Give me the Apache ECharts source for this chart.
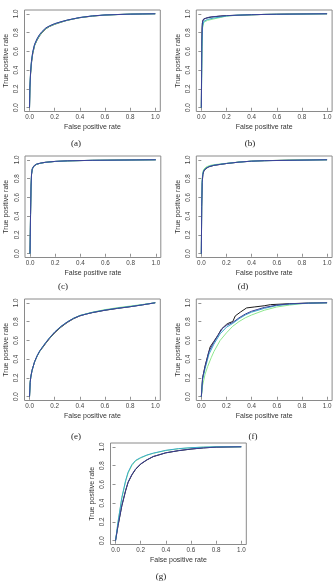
<!DOCTYPE html>
<html>
<head>
<meta charset="utf-8">
<script src="https://cdn.jsdelivr.net/npm/echarts@6/dist/echarts.min.js"></script>
<style>html,body{margin:0;padding:0;background:#fff}#c{width:336px;height:583px}</style>
</head>
<body>
<div id="c"></div>
<script>
// ---- tick labels / captions ----
const tickValues = [0, 0.2, 0.4, 0.6, 0.8, 1.0];
const captions = ['(a)', '(b)', '(c)', '(d)', '(e)', '(f)', '(g)'];
const xTitle = 'False positive rate';
const yTitle = 'True positive rate';

// ---- ROC curves: [false positive rate, true positive rate] ----
const a_black = [[0,0],[0.003,0.2],[0.008,0.35],[0.015,0.47],[0.025,0.57],[0.04,0.66],[0.06,0.72],[0.08,0.765],[0.1,0.80],[0.13,0.84],[0.16,0.865],[0.2,0.888],[0.25,0.91],[0.3,0.93],[0.35,0.945],[0.4,0.958],[0.5,0.975],[0.6,0.986],[0.7,0.992],[0.8,0.996],[0.9,0.998],[1,1]];
const a_green = [[0,0],[0.003,0.21],[0.008,0.36],[0.015,0.48],[0.025,0.58],[0.04,0.665],[0.06,0.725],[0.08,0.77],[0.1,0.805],[0.13,0.843],[0.16,0.868],[0.2,0.89],[0.25,0.912],[0.3,0.931],[0.4,0.959],[0.5,0.976],[0.6,0.986],[0.8,0.996],[1,1]];
const a_cyan  = [[0,0],[0.003,0.22],[0.008,0.37],[0.015,0.49],[0.025,0.59],[0.04,0.67],[0.06,0.73],[0.08,0.775],[0.1,0.81],[0.13,0.847],[0.16,0.87],[0.2,0.893],[0.25,0.914],[0.3,0.932],[0.4,0.96],[0.5,0.977],[0.6,0.987],[0.8,0.996],[1,1]];
const a_blue  = [[0,0],[0.003,0.22],[0.008,0.37],[0.015,0.49],[0.025,0.59],[0.04,0.675],[0.06,0.735],[0.08,0.78],[0.1,0.812],[0.13,0.85],[0.16,0.872],[0.2,0.895],[0.25,0.915],[0.3,0.933],[0.4,0.96],[0.5,0.977],[0.6,0.987],[0.8,0.996],[1,1]];

const b_black = [[0,0],[0.003,0.6],[0.006,0.85],[0.01,0.92],[0.02,0.945],[0.04,0.955],[0.08,0.965],[0.15,0.975],[0.2,0.98],[0.3,0.985],[0.5,0.993],[0.7,0.997],[1,1]];
const b_green = [[0,0],[0.005,0.6],[0.01,0.85],[0.02,0.91],[0.05,0.93],[0.1,0.945],[0.15,0.96],[0.2,0.975],[0.3,0.985],[0.5,0.993],[1,1]];
const b_cyan  = [[0,0],[0.005,0.65],[0.01,0.87],[0.02,0.92],[0.05,0.94],[0.1,0.955],[0.15,0.965],[0.2,0.977],[0.3,0.986],[0.5,0.993],[1,1]];
const b_blue  = [[0,0],[0.004,0.7],[0.008,0.9],[0.015,0.94],[0.03,0.955],[0.06,0.963],[0.1,0.97],[0.2,0.98],[0.4,0.99],[0.6,0.995],[1,1]];

const c_black = [[0,0],[0.004,0.4],[0.008,0.7],[0.012,0.84],[0.018,0.9],[0.03,0.93],[0.05,0.95],[0.08,0.962],[0.12,0.972],[0.2,0.982],[0.3,0.988],[0.5,0.994],[0.7,0.997],[1,1]];
const c_green = [[0,0],[0.004,0.42],[0.008,0.72],[0.012,0.85],[0.018,0.905],[0.03,0.935],[0.05,0.952],[0.08,0.963],[0.12,0.973],[0.2,0.982],[0.3,0.988],[0.5,0.994],[1,1]];
const c_cyan  = [[0,0],[0.004,0.41],[0.008,0.71],[0.012,0.845],[0.018,0.9],[0.03,0.932],[0.05,0.951],[0.08,0.962],[0.12,0.972],[0.2,0.982],[0.3,0.988],[0.5,0.994],[1,1]];
const c_blue  = [[0,0],[0.004,0.42],[0.008,0.72],[0.012,0.85],[0.018,0.905],[0.03,0.935],[0.05,0.953],[0.08,0.964],[0.12,0.973],[0.2,0.983],[0.3,0.989],[0.5,0.994],[1,1]];

const d_black = [[0,0],[0.003,0.5],[0.007,0.75],[0.012,0.84],[0.02,0.88],[0.035,0.905],[0.06,0.925],[0.1,0.94],[0.15,0.95],[0.2,0.96],[0.3,0.975],[0.4,0.985],[0.5,0.99],[0.7,0.996],[1,1]];
const d_green = [[0,0],[0.003,0.55],[0.007,0.8],[0.012,0.87],[0.02,0.9],[0.04,0.925],[0.07,0.94],[0.1,0.948],[0.15,0.955],[0.2,0.962],[0.3,0.976],[0.4,0.985],[0.5,0.99],[0.7,0.996],[1,1]];
const d_cyan  = [[0,0],[0.003,0.52],[0.007,0.78],[0.012,0.855],[0.02,0.89],[0.04,0.915],[0.07,0.933],[0.1,0.943],[0.15,0.952],[0.2,0.961],[0.3,0.975],[0.4,0.985],[0.5,0.99],[1,1]];
const d_blue  = [[0,0],[0.003,0.5],[0.007,0.76],[0.012,0.845],[0.02,0.883],[0.035,0.907],[0.06,0.926],[0.1,0.941],[0.15,0.951],[0.2,0.96],[0.3,0.975],[0.4,0.985],[0.5,0.99],[1,1]];

const e_black = [[0,0],[0.005,0.15],[0.01,0.21],[0.02,0.28],[0.04,0.37],[0.06,0.43],[0.08,0.48],[0.1,0.515],[0.13,0.57],[0.16,0.62],[0.2,0.68],[0.25,0.74],[0.3,0.79],[0.35,0.83],[0.4,0.86],[0.45,0.88],[0.5,0.895],[0.6,0.92],[0.7,0.94],[0.8,0.958],[0.9,0.978],[1,1]];
const e_green = [[0,0],[0.005,0.15],[0.01,0.21],[0.02,0.28],[0.04,0.37],[0.06,0.43],[0.08,0.48],[0.1,0.52],[0.13,0.575],[0.16,0.625],[0.2,0.685],[0.25,0.745],[0.3,0.795],[0.35,0.835],[0.4,0.865],[0.5,0.9],[0.6,0.927],[0.7,0.948],[0.8,0.965],[0.9,0.982],[1,1]];
const e_cyan  = [[0,0],[0.005,0.15],[0.01,0.21],[0.02,0.28],[0.04,0.37],[0.06,0.435],[0.08,0.485],[0.1,0.525],[0.13,0.58],[0.16,0.63],[0.2,0.69],[0.25,0.75],[0.3,0.797],[0.35,0.835],[0.4,0.864],[0.5,0.898],[0.6,0.923],[0.7,0.943],[0.8,0.96],[0.9,0.979],[1,1]];
const e_blue  = [[0,0],[0.005,0.15],[0.01,0.21],[0.02,0.28],[0.04,0.372],[0.06,0.435],[0.08,0.485],[0.1,0.522],[0.13,0.577],[0.16,0.627],[0.2,0.687],[0.25,0.747],[0.3,0.795],[0.35,0.834],[0.4,0.862],[0.5,0.896],[0.6,0.921],[0.7,0.941],[0.8,0.958],[0.9,0.978],[1,1]];

const f_black = [[0,0],[0.01,0.2],[0.03,0.33],[0.05,0.43],[0.07,0.53],[0.1,0.59],[0.13,0.65],[0.16,0.72],[0.2,0.77],[0.22,0.785],[0.25,0.8],[0.27,0.86],[0.31,0.9],[0.36,0.945],[0.42,0.955],[0.5,0.968],[0.55,0.98],[0.7,0.99],[0.85,0.997],[1,1]];
const f_green = [[0,0],[0.01,0.12],[0.03,0.24],[0.05,0.32],[0.08,0.42],[0.1,0.48],[0.15,0.6],[0.2,0.68],[0.25,0.75],[0.3,0.8],[0.35,0.84],[0.4,0.87],[0.5,0.92],[0.6,0.955],[0.7,0.975],[0.8,0.99],[0.9,0.997],[1,1]];
const f_cyan  = [[0,0],[0.01,0.18],[0.03,0.3],[0.06,0.45],[0.1,0.56],[0.15,0.67],[0.2,0.74],[0.25,0.78],[0.3,0.83],[0.35,0.87],[0.4,0.9],[0.5,0.94],[0.6,0.97],[0.7,0.985],[0.85,0.995],[1,1]];
const f_blue  = [[0,0],[0.01,0.2],[0.03,0.32],[0.06,0.48],[0.1,0.58],[0.14,0.67],[0.17,0.73],[0.2,0.76],[0.25,0.79],[0.3,0.84],[0.35,0.88],[0.4,0.91],[0.45,0.93],[0.5,0.95],[0.6,0.975],[0.7,0.988],[0.85,0.996],[1,1]];

const g_black = [[0,0],[0.02,0.16],[0.05,0.37],[0.08,0.53],[0.1,0.62],[0.13,0.7],[0.16,0.76],[0.2,0.815],[0.25,0.86],[0.3,0.895],[0.4,0.935],[0.5,0.958],[0.6,0.975],[0.7,0.988],[0.8,0.996],[1,1]];
const g_green = [[0,0],[0.02,0.2],[0.05,0.45],[0.08,0.63],[0.1,0.72],[0.13,0.8],[0.16,0.85],[0.2,0.88],[0.25,0.91],[0.3,0.93],[0.4,0.96],[0.5,0.978],[0.6,0.99],[0.7,0.996],[0.8,1],[1,1]];
const g_cyan  = [[0,0],[0.02,0.2],[0.05,0.46],[0.08,0.64],[0.1,0.73],[0.13,0.81],[0.16,0.855],[0.2,0.885],[0.25,0.912],[0.3,0.932],[0.4,0.962],[0.5,0.98],[0.6,0.99],[0.7,0.996],[0.8,1],[1,1]];
const g_blue  = [[0,0],[0.02,0.165],[0.05,0.375],[0.08,0.535],[0.1,0.625],[0.13,0.705],[0.16,0.765],[0.2,0.818],[0.25,0.862],[0.3,0.897],[0.4,0.936],[0.5,0.959],[0.6,0.976],[0.7,0.988],[0.8,0.996],[1,1]];

const panels = [
  {black: a_black, green: a_green, cyan: a_cyan, blue: a_blue},
  {black: b_black, green: b_green, cyan: b_cyan, blue: b_blue},
  {black: c_black, green: c_green, cyan: c_cyan, blue: c_blue},
  {black: d_black, green: d_green, cyan: d_cyan, blue: d_blue},
  {black: e_black, green: e_green, cyan: e_cyan, blue: e_blue},
  {black: f_black, green: f_green, cyan: f_cyan, blue: f_blue},
  {black: g_black, green: g_green, cyan: g_cyan, blue: g_blue}
];

// ---- layout (plot boxes) ----
const boxes = [
  {left: 24.5, top: 10},
  {left: 196.3, top: 10},
  {left: 25, top: 156},
  {left: 196.3, top: 156},
  {left: 24.5, top: 299},
  {left: 196.3, top: 299},
  {left: 110.5, top: 443}
];
const boxW = 135.8, boxH = 101.5;
const capPos = [[76,144],[250,144],[63,287],[243,287],[76,437],[253,437],[161,577]];

const colors = {black: '#1a1a1a', green: '#8ee88e', cyan: '#3aa8cc', blue: '#3a3f96'};
const order = ['black', 'green', 'cyan', 'blue'];
const sans = '"Liberation Sans", Arial, sans-serif';
const serif = '"Liberation Serif", "Times New Roman", serif';

const grid = [], xAxis = [], yAxis = [], series = [], graphic = [];
boxes.forEach((b, i) => {
  grid.push({left: b.left, top: b.top, width: boxW, height: boxH, show: true,
    borderColor: '#8a8a8a', borderWidth: 1, backgroundColor: 'transparent', containLabel: false});
  const common = {
    type: 'value', gridIndex: i, min: -0.04, max: 1.04,
    splitLine: {show: false}, axisLine: {show: false},
    axisTick: {show: true, length: 3, lineStyle: {color: '#777', width: 0.8}, customValues: tickValues},
    nameTextStyle: {fontFamily: sans, fontSize: 7, color: '#333'}
  };
  xAxis.push(Object.assign({}, common, {
    name: xTitle, nameLocation: 'middle', nameGap: 12.5,
    axisLabel: {customValues: tickValues, fontFamily: sans, fontSize: 6.3, color: '#444', margin: 3,
      formatter: v => v.toFixed(1)}
  }));
  yAxis.push(Object.assign({}, common, {
    name: yTitle, nameLocation: 'middle', nameGap: 15, nameRotate: 90,
    axisLabel: {customValues: tickValues, fontFamily: sans, fontSize: 6.3, color: '#444', margin: 5,
      rotate: 90, formatter: v => v.toFixed(1)}
  }));
  order.forEach(k => {
    series.push({type: 'line', xAxisIndex: i, yAxisIndex: i, data: panels[i][k],
      showSymbol: false, symbol: 'none', silent: true, animation: false,
      lineStyle: {color: colors[k], width: 1}});
  });
  graphic.push({type: 'text', x: capPos[i][0], y: capPos[i][1],
    style: {text: captions[i], font: '9px ' + serif, fill: '#222', textAlign: 'center', textVerticalAlign: 'middle'}});
});

const chart = echarts.init(document.getElementById('c'), null, {renderer: 'canvas'});
chart.setOption({animation: false, grid, xAxis, yAxis, series, graphic});
</script>
</body>
</html>
